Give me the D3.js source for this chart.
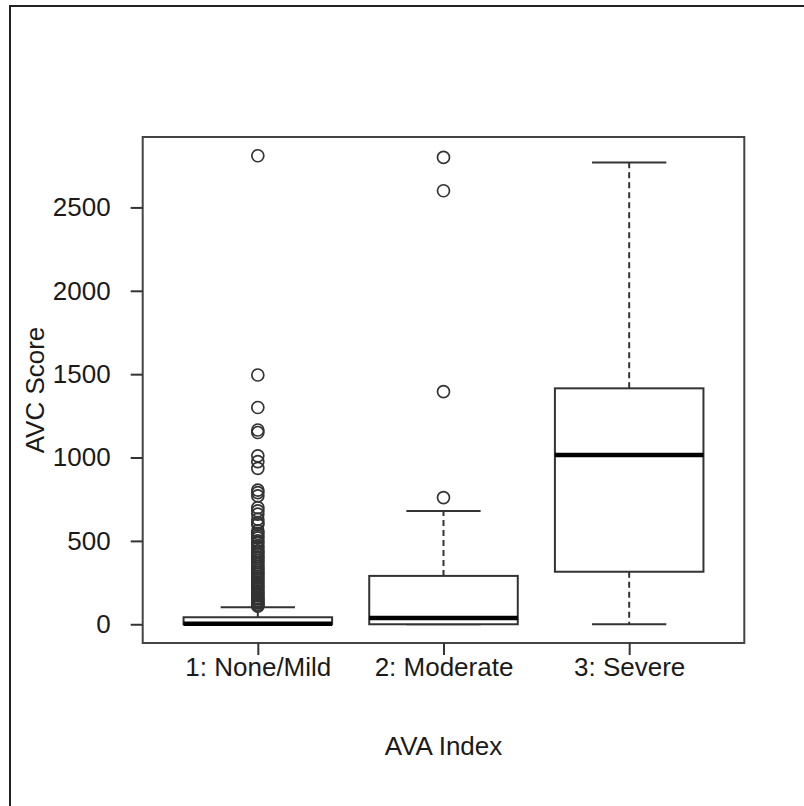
<!DOCTYPE html>
<html>
<head>
<meta charset="utf-8">
<script src="https://cdn.jsdelivr.net/npm/d3@7"></script>
<style>
  html, body { margin: 0; padding: 0; background: #fff; }
  svg { display: block; }
  text { font-family: "Liberation Sans", Arial, Helvetica, sans-serif; fill: #1a1a1a; }
</style>
</head>
<body>
<svg id="chart" width="804" height="806"></svg>
<script>
// ---- data ----
const categories = ["1: None/Mild", "2: Moderate", "3: Severe"];
const lowerWhisker = [0, 0, 0];
const q1 = [0, 0, 315];
const median = [3, 38, 1015];
const q3 = [42, 290, 1415];
const upperWhisker = [102, 680, 2770];
const outliers1 = [2810, 1495, 1300, 1165, 1150, 1010, 975, 935, 805, 790, 770,
  700, 680, 660, 630, 610, 598, 560, 545, 530, 518, 500, 488, 470, 455, 440,
  430, 418, 405, 395, 382, 370, 358, 345, 335, 322, 310, 300, 288, 278, 266,
  255, 244, 232, 222, 212, 200, 190, 180, 170, 160, 152, 144, 136, 128, 120,
  114, 108];
const outliers2 = [2800, 2600, 1395, 760];
const outliers3 = [];
const outliers = [outliers1, outliers2, outliers3];
const yTicks = [0, 500, 1000, 1500, 2000, 2500];
const xTitle = "AVA Index";
const yTitle = "AVC Score";

// ---- layout ----
const svg = d3.select("#chart");
const plot = { left: 142.7, right: 744.3, top: 137, bottom: 643 };
const FONT = 26;
const dark = "#333";

// outer frame (right/bottom edges fall outside the picture)
svg.append("rect")
  .attr("x", 10).attr("y", 6).attr("width", 820).attr("height", 830)
  .attr("fill", "none").attr("stroke", "#222").attr("stroke-width", 2);

// R-style ranges: x in [0.5, n+0.5], y data range, each expanded by 4%
const n = categories.length;
const xlo = 0.5, xhi = n + 0.5, xpad = (xhi - xlo) * 0.04;
const x = d3.scaleLinear().domain([xlo - xpad, xhi + xpad]).range([plot.left, plot.right]);
const allVals = [].concat(lowerWhisker, upperWhisker, ...outliers);
const ymin = d3.min(allVals), ymax = d3.max(allVals), ypad = (ymax - ymin) * 0.04;
const y = d3.scaleLinear().domain([ymin - ypad, ymax + ypad]).range([plot.bottom, plot.top]);

const boxHalf = 0.4, stapleHalf = 0.2;

const g = svg.append("g");
categories.forEach((c, i) => {
  const cx = x(i + 1);
  const bx0 = x(i + 1 - boxHalf), bx1 = x(i + 1 + boxHalf);
  const sx0 = x(i + 1 - stapleHalf), sx1 = x(i + 1 + stapleHalf);
  // whiskers (dashed)
  g.append("line").attr("x1", cx).attr("x2", cx)
    .attr("y1", y(q3[i])).attr("y2", y(upperWhisker[i]))
    .attr("stroke", dark).attr("stroke-width", 2).attr("stroke-dasharray", "6,4");
  g.append("line").attr("x1", cx).attr("x2", cx)
    .attr("y1", y(q1[i])).attr("y2", y(lowerWhisker[i]))
    .attr("stroke", dark).attr("stroke-width", 2).attr("stroke-dasharray", "6,4");
  // staples
  [upperWhisker[i], lowerWhisker[i]].forEach(v => {
    g.append("line").attr("x1", sx0).attr("x2", sx1)
      .attr("y1", y(v)).attr("y2", y(v))
      .attr("stroke", dark).attr("stroke-width", 2);
  });
  // box
  g.append("rect").attr("x", bx0).attr("width", bx1 - bx0)
    .attr("y", y(q3[i])).attr("height", y(q1[i]) - y(q3[i]))
    .attr("fill", "#fff").attr("stroke", dark).attr("stroke-width", 2);
  // median
  g.append("line").attr("x1", bx0).attr("x2", bx1)
    .attr("y1", y(median[i])).attr("y2", y(median[i]))
    .attr("stroke", "#000").attr("stroke-width", 4.5);
  // outliers
  g.selectAll(null).data(outliers[i]).enter().append("circle")
    .attr("cx", cx).attr("cy", d => y(d)).attr("r", 6)
    .attr("fill", "none").attr("stroke", dark).attr("stroke-width", 1.7);
});

// plot frame
svg.append("rect")
  .attr("x", plot.left).attr("y", plot.top)
  .attr("width", plot.right - plot.left).attr("height", plot.bottom - plot.top)
  .attr("fill", "none").attr("stroke", "#444").attr("stroke-width", 2);

// y axis
const yAxis = d3.axisLeft(y).tickValues(yTicks).tickSize(12).tickPadding(20).tickFormat(d3.format("d"));
const ya = svg.append("g").attr("transform", `translate(${plot.left},0)`).call(yAxis);
ya.select(".domain").remove();
ya.selectAll(".tick line").attr("stroke", dark).attr("stroke-width", 2);
ya.selectAll(".tick text").attr("font-size", FONT).attr("fill", "#1a1a1a")
  .style("font-family", '"Liberation Sans", Arial, sans-serif');

// x axis
const xAxis = d3.axisBottom(x).tickValues(d3.range(1, n + 1)).tickSize(12).tickPadding(3)
  .tickFormat(d => categories[d - 1]);
const xa = svg.append("g").attr("transform", `translate(0,${plot.bottom})`).call(xAxis);
xa.select(".domain").remove();
xa.selectAll(".tick line").attr("stroke", dark).attr("stroke-width", 2);
xa.selectAll(".tick text").attr("font-size", FONT).attr("fill", "#1a1a1a")
  .style("font-family", '"Liberation Sans", Arial, sans-serif');

// titles
svg.append("text").attr("x", (plot.left + plot.right) / 2).attr("y", 755)
  .attr("text-anchor", "middle").attr("font-size", FONT).text(xTitle);
svg.append("text")
  .attr("transform", `translate(44,${(plot.top + plot.bottom) / 2}) rotate(-90)`)
  .attr("text-anchor", "middle").attr("font-size", FONT).text(yTitle);
</script>
</body>
</html>
